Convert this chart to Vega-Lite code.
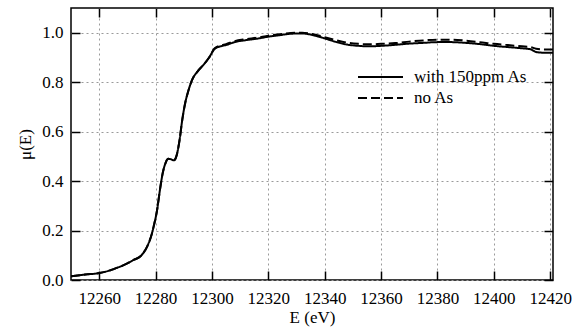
{
  "$schema": "https://vega.github.io/schema/vega-lite/v6.json",
  "width": 482,
  "height": 272,
  "autosize": "none",
  "padding": {"left": 71, "top": 8, "right": 32, "bottom": 51},
  "background": "white",
  "config": {
    "font": "Liberation Serif",
    "view": {"stroke": "#000", "strokeWidth": 1.5},
    "style": {
      "guide-label": {"font": "Liberation Serif", "fontSize": 17, "fill": "#000"},
      "guide-title": {"font": "Liberation Serif", "fontSize": 17, "fontWeight": "normal", "fill": "#000"}
    },
    "axis": {
      "labelFont": "Liberation Serif",
      "labelFontSize": 17,
      "labelColor": "#000",
      "titleFont": "Liberation Serif",
      "titleFontSize": 17,
      "titleFontWeight": "normal",
      "titleColor": "#000",
      "domain": false,
      "tickColor": "#000",
      "tickWidth": 1.5,
      "tickSize": -9,
      "labelFlush": false,
      "labelOverlap": false,
      "gridColor": "#9a9a9a",
      "gridDash": [2, 3],
      "gridWidth": 1
    },
    "legend": {
      "labelFont": "Liberation Serif",
      "labelFontSize": 17,
      "labelColor": "#000"
    }
  },
  "datasets": {
    "spectra": [
      {"E": 12250, "mu": 0.015, "series": "with 150ppm As"},
      {"E": 12255, "mu": 0.022, "series": "with 150ppm As"},
      {"E": 12260, "mu": 0.028, "series": "with 150ppm As"},
      {"E": 12263, "mu": 0.036, "series": "with 150ppm As"},
      {"E": 12266, "mu": 0.048, "series": "with 150ppm As"},
      {"E": 12269, "mu": 0.062, "series": "with 150ppm As"},
      {"E": 12272, "mu": 0.080, "series": "with 150ppm As"},
      {"E": 12275, "mu": 0.100, "series": "with 150ppm As"},
      {"E": 12277, "mu": 0.135, "series": "with 150ppm As"},
      {"E": 12278.5, "mu": 0.180, "series": "with 150ppm As"},
      {"E": 12279.5, "mu": 0.225, "series": "with 150ppm As"},
      {"E": 12280.5, "mu": 0.280, "series": "with 150ppm As"},
      {"E": 12281.5, "mu": 0.360, "series": "with 150ppm As"},
      {"E": 12282.5, "mu": 0.430, "series": "with 150ppm As"},
      {"E": 12283.5, "mu": 0.472, "series": "with 150ppm As"},
      {"E": 12284.5, "mu": 0.490, "series": "with 150ppm As"},
      {"E": 12285.5, "mu": 0.488, "series": "with 150ppm As"},
      {"E": 12286.5, "mu": 0.484, "series": "with 150ppm As"},
      {"E": 12287.5, "mu": 0.505, "series": "with 150ppm As"},
      {"E": 12288.5, "mu": 0.565, "series": "with 150ppm As"},
      {"E": 12289.5, "mu": 0.650, "series": "with 150ppm As"},
      {"E": 12290.5, "mu": 0.715, "series": "with 150ppm As"},
      {"E": 12291.5, "mu": 0.760, "series": "with 150ppm As"},
      {"E": 12293, "mu": 0.810, "series": "with 150ppm As"},
      {"E": 12295, "mu": 0.845, "series": "with 150ppm As"},
      {"E": 12297, "mu": 0.870, "series": "with 150ppm As"},
      {"E": 12299, "mu": 0.900, "series": "with 150ppm As"},
      {"E": 12301, "mu": 0.935, "series": "with 150ppm As"},
      {"E": 12303, "mu": 0.945, "series": "with 150ppm As"},
      {"E": 12305, "mu": 0.950, "series": "with 150ppm As"},
      {"E": 12308, "mu": 0.962, "series": "with 150ppm As"},
      {"E": 12312, "mu": 0.970, "series": "with 150ppm As"},
      {"E": 12316, "mu": 0.976, "series": "with 150ppm As"},
      {"E": 12320, "mu": 0.984, "series": "with 150ppm As"},
      {"E": 12324, "mu": 0.990, "series": "with 150ppm As"},
      {"E": 12328, "mu": 0.996, "series": "with 150ppm As"},
      {"E": 12332, "mu": 0.997, "series": "with 150ppm As"},
      {"E": 12336, "mu": 0.990, "series": "with 150ppm As"},
      {"E": 12340, "mu": 0.977, "series": "with 150ppm As"},
      {"E": 12344, "mu": 0.963, "series": "with 150ppm As"},
      {"E": 12348, "mu": 0.952, "series": "with 150ppm As"},
      {"E": 12352, "mu": 0.947, "series": "with 150ppm As"},
      {"E": 12356, "mu": 0.945, "series": "with 150ppm As"},
      {"E": 12360, "mu": 0.947, "series": "with 150ppm As"},
      {"E": 12365, "mu": 0.951, "series": "with 150ppm As"},
      {"E": 12370, "mu": 0.956, "series": "with 150ppm As"},
      {"E": 12375, "mu": 0.959, "series": "with 150ppm As"},
      {"E": 12380, "mu": 0.962, "series": "with 150ppm As"},
      {"E": 12385, "mu": 0.962, "series": "with 150ppm As"},
      {"E": 12390, "mu": 0.959, "series": "with 150ppm As"},
      {"E": 12395, "mu": 0.954, "series": "with 150ppm As"},
      {"E": 12400, "mu": 0.947, "series": "with 150ppm As"},
      {"E": 12405, "mu": 0.942, "series": "with 150ppm As"},
      {"E": 12410, "mu": 0.937, "series": "with 150ppm As"},
      {"E": 12413, "mu": 0.933, "series": "with 150ppm As"},
      {"E": 12415, "mu": 0.922, "series": "with 150ppm As"},
      {"E": 12418, "mu": 0.919, "series": "with 150ppm As"},
      {"E": 12421, "mu": 0.919, "series": "with 150ppm As"},

      {"E": 12250, "mu": 0.015, "series": "no As"},
      {"E": 12255, "mu": 0.022, "series": "no As"},
      {"E": 12260, "mu": 0.028, "series": "no As"},
      {"E": 12263, "mu": 0.036, "series": "no As"},
      {"E": 12266, "mu": 0.048, "series": "no As"},
      {"E": 12269, "mu": 0.062, "series": "no As"},
      {"E": 12272, "mu": 0.080, "series": "no As"},
      {"E": 12275, "mu": 0.100, "series": "no As"},
      {"E": 12277, "mu": 0.135, "series": "no As"},
      {"E": 12278.5, "mu": 0.180, "series": "no As"},
      {"E": 12279.5, "mu": 0.225, "series": "no As"},
      {"E": 12280.5, "mu": 0.280, "series": "no As"},
      {"E": 12281.5, "mu": 0.360, "series": "no As"},
      {"E": 12282.5, "mu": 0.430, "series": "no As"},
      {"E": 12283.5, "mu": 0.472, "series": "no As"},
      {"E": 12284.5, "mu": 0.490, "series": "no As"},
      {"E": 12285.5, "mu": 0.488, "series": "no As"},
      {"E": 12286.5, "mu": 0.484, "series": "no As"},
      {"E": 12287.5, "mu": 0.505, "series": "no As"},
      {"E": 12288.5, "mu": 0.565, "series": "no As"},
      {"E": 12289.5, "mu": 0.650, "series": "no As"},
      {"E": 12290.5, "mu": 0.715, "series": "no As"},
      {"E": 12291.5, "mu": 0.760, "series": "no As"},
      {"E": 12293, "mu": 0.810, "series": "no As"},
      {"E": 12295, "mu": 0.845, "series": "no As"},
      {"E": 12297, "mu": 0.870, "series": "no As"},
      {"E": 12299, "mu": 0.900, "series": "no As"},
      {"E": 12301, "mu": 0.937, "series": "no As"},
      {"E": 12303, "mu": 0.948, "series": "no As"},
      {"E": 12305, "mu": 0.954, "series": "no As"},
      {"E": 12308, "mu": 0.966, "series": "no As"},
      {"E": 12312, "mu": 0.974, "series": "no As"},
      {"E": 12316, "mu": 0.980, "series": "no As"},
      {"E": 12320, "mu": 0.988, "series": "no As"},
      {"E": 12324, "mu": 0.994, "series": "no As"},
      {"E": 12328, "mu": 0.999, "series": "no As"},
      {"E": 12332, "mu": 1.000, "series": "no As"},
      {"E": 12336, "mu": 0.994, "series": "no As"},
      {"E": 12340, "mu": 0.982, "series": "no As"},
      {"E": 12344, "mu": 0.970, "series": "no As"},
      {"E": 12348, "mu": 0.960, "series": "no As"},
      {"E": 12352, "mu": 0.955, "series": "no As"},
      {"E": 12356, "mu": 0.953, "series": "no As"},
      {"E": 12360, "mu": 0.955, "series": "no As"},
      {"E": 12365, "mu": 0.958, "series": "no As"},
      {"E": 12370, "mu": 0.964, "series": "no As"},
      {"E": 12375, "mu": 0.969, "series": "no As"},
      {"E": 12380, "mu": 0.972, "series": "no As"},
      {"E": 12385, "mu": 0.972, "series": "no As"},
      {"E": 12390, "mu": 0.968, "series": "no As"},
      {"E": 12395, "mu": 0.962, "series": "no As"},
      {"E": 12400, "mu": 0.955, "series": "no As"},
      {"E": 12405, "mu": 0.950, "series": "no As"},
      {"E": 12410, "mu": 0.945, "series": "no As"},
      {"E": 12413, "mu": 0.942, "series": "no As"},
      {"E": 12415, "mu": 0.935, "series": "no As"},
      {"E": 12418, "mu": 0.932, "series": "no As"},
      {"E": 12421, "mu": 0.932, "series": "no As"}
    ]
  },
  "data": {"name": "spectra"},
  "layer": [
    {
      "mark": {"type": "line", "color": "#000", "strokeWidth": 2, "interpolate": "monotone", "clip": true},
      "encoding": {
        "x": {
          "field": "E", "type": "quantitative",
          "scale": {"domain": [12250, 12421], "nice": false, "zero": false},
          "axis": {
            "orient": "bottom",
            "title": "E (eV)",
            "labelFont": "Liberation Serif",
            "titleFont": "Liberation Serif",
            "values": [12260, 12280, 12300, 12320, 12340, 12360, 12380, 12400, 12420],
            "format": "d",
            "labelPadding": 19,
            "titlePadding": 3,
            "grid": true
          }
        },
        "y": {
          "field": "mu", "type": "quantitative",
          "scale": {"domain": [0, 1.1], "nice": false, "zero": false},
          "axis": {
            "orient": "left",
            "title": "μ(E)",
            "labelFont": "Liberation Serif",
            "titleFont": "Liberation Serif",
            "values": [0, 0.2, 0.4, 0.6, 0.8, 1.0],
            "format": ".1f",
            "labelPadding": 17,
            "titlePadding": 7,
            "grid": true
          }
        },
        "strokeDash": {
          "field": "series", "type": "nominal",
          "scale": {"domain": ["with 150ppm As", "no As"], "range": [[1, 0], [9, 4]]},
          "legend": {
            "title": null,
            "orient": "none",
            "legendX": 299.5,
            "legendY": 59,
            "padding": 0,
            "symbolType": "M-2.5,0H2.5",
            "symbolSize": 324,
            "symbolStrokeWidth": 2,
            "symbolStrokeColor": "#000",
            "labelOffset": 23.5,
            "rowPadding": 3
          }
        }
      }
    },
    {
      "mark": {"type": "line", "opacity": 0},
      "encoding": {
        "x": {
          "field": "E", "type": "quantitative",
          "axis": {
            "orient": "top",
            "title": null,
            "labels": false,
            "grid": false,
            "values": [12260, 12280, 12300, 12320, 12340, 12360, 12380, 12400, 12420]
          }
        },
        "y": {
          "field": "mu", "type": "quantitative",
          "axis": {
            "orient": "right",
            "title": null,
            "labels": false,
            "grid": false,
            "values": [0, 0.2, 0.4, 0.6, 0.8, 1.0]
          }
        }
      }
    }
  ],
  "resolve": {"axis": {"x": "independent", "y": "independent"}}
}
